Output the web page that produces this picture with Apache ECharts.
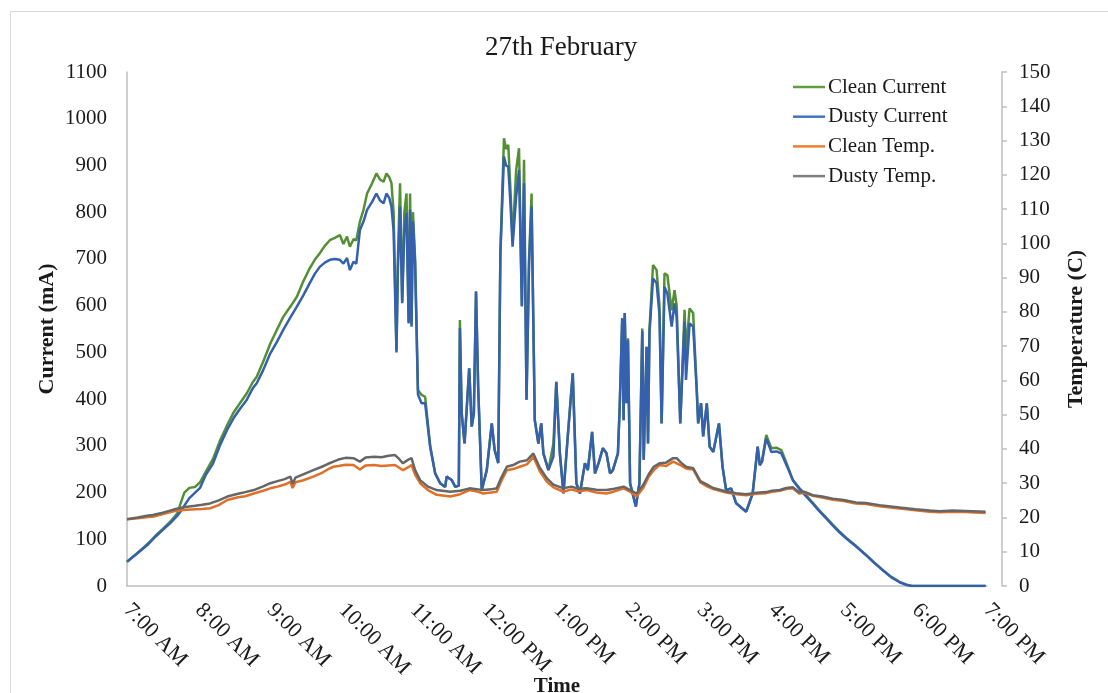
<!DOCTYPE html>
<html>
<head>
<meta charset="utf-8">
<script src="https://cdn.jsdelivr.net/npm/echarts@6/dist/echarts.min.js"></script>
<style>
html,body{margin:0;padding:0;background:#fff;}
#chart{width:1108px;height:693px;}
</style>
</head>
<body>
<div id="chart"></div>
<script>
// ---- data (time in decimal hours of the day) ----
var xTickLabels = ['7:00 AM','8:00 AM','9:00 AM','10:00 AM','11:00 AM','12:00 PM','1:00 PM','2:00 PM','3:00 PM','4:00 PM','5:00 PM','6:00 PM','7:00 PM'];
var seriesNames = ['Clean Current','Dusty Current','Clean Temp.','Dusty Temp.'];

var currentTimes = [7.00,7.10,7.20,7.30,7.40,7.50,7.60,7.70,7.75,7.80,7.87,7.95,8.02,8.10,8.20,8.30,8.40,8.49,8.58,8.67,8.75,8.81,8.90,9.00,9.09,9.18,9.28,9.37,9.46,9.55,9.62,9.69,9.76,9.83,9.90,9.97,10.02,10.07,10.11,10.16,10.20,10.25,10.30,10.35,10.42,10.48,10.53,10.58,10.62,10.66,10.69,10.72,10.76,10.78,10.81,10.84,10.87,10.90,10.93,10.95,10.97,10.99,11.02,11.06,11.11,11.16,11.23,11.30,11.37,11.44,11.46,11.53,11.58,11.63,11.645,11.67,11.71,11.775,11.81,11.84,11.87,11.90,11.95,12.02,12.09,12.13,12.18,12.21,12.26,12.29,12.32,12.35,12.38,12.43,12.47,12.51,12.54,12.575,12.61,12.645,12.69,12.74,12.78,12.81,12.88,12.95,12.99,13.04,13.09,13.15,13.22,13.27,13.32,13.39,13.43,13.49,13.53,13.58,13.64,13.69,13.74,13.78,13.85,13.875,13.91,13.93,13.945,13.97,13.99,14.02,14.10,14.15,14.19,14.21,14.25,14.27,14.29,14.34,14.39,14.43,14.46,14.50,14.54,14.60,14.64,14.67,14.72,14.78,14.80,14.85,14.90,14.95,14.97,15.01,15.04,15.09,15.13,15.18,15.26,15.31,15.36,15.43,15.50,15.57,15.64,15.73,15.80,15.83,15.86,15.92,15.99,16.06,16.13,16.21,16.29,16.38,16.47,16.57,16.66,16.76,16.85,16.94,17.05,17.17,17.31,17.43,17.55,17.66,17.78,17.88,17.95,18.20,18.60,18.98];
var cleanCurrent = [52,65,78,92,108,122,137,155,178,200,210,212,222,245,272,312,345,372,392,412,435,448,480,519,548,576,598,619,652,680,698,712,728,740,745,751,732,748,726,742,740,780,805,840,862,883,870,865,883,875,862,800,505,700,862,610,800,840,565,840,560,800,700,419,409,405,300,241,220,212,234,227,212,215,569,370,305,466,341,370,630,426,205,248,348,291,263,712,958,935,944,850,740,890,937,600,912,400,700,840,355,305,348,284,248,305,437,284,198,320,455,220,198,263,248,330,241,263,295,284,241,248,284,384,573,355,584,391,530,220,170,220,551,270,512,305,548,687,676,600,348,669,665,590,633,600,348,591,500,594,584,419,348,391,320,391,298,287,348,255,205,209,177,168,159,198,298,260,266,323,295,296,291,260,227,210,195,178,162,146,131,117,101,86,67,50,34,20,9,3,0,0,0,0];
var dustyCurrent = [52,64,77,90,106,120,134,150,160,172,188,200,210,238,262,302,335,360,380,398,422,434,462,498,522,548,575,598,622,648,668,683,692,698,700,698,690,702,676,694,690,762,780,805,822,840,825,819,840,830,812,760,500,680,812,605,760,798,562,805,555,780,690,410,391,391,298,241,220,212,234,227,212,215,552,370,305,466,341,370,630,426,205,248,348,291,263,712,919,900,897,820,726,833,890,598,862,398,690,812,355,305,348,284,248,277,437,284,198,320,455,220,198,263,248,330,241,263,295,284,241,248,284,384,573,355,584,391,526,220,170,220,545,270,512,305,540,658,648,580,348,640,626,555,605,576,348,566,441,562,555,419,348,391,320,391,298,287,348,255,205,209,177,168,159,198,298,258,266,316,287,288,284,256,227,208,193,176,160,144,129,115,100,85,66,49,33,19,8,2,0,0,0,0];

var tempTimes = [7.00,7.15,7.30,7.36,7.50,7.65,7.79,7.95,8.05,8.16,8.28,8.40,8.55,8.65,8.77,8.90,9.00,9.10,9.20,9.28,9.31,9.35,9.45,9.60,9.72,9.80,9.88,9.95,10.05,10.16,10.25,10.33,10.45,10.55,10.65,10.74,10.80,10.85,10.92,10.97,11.02,11.09,11.20,11.32,11.51,11.65,11.78,11.90,11.97,12.08,12.16,12.22,12.30,12.40,12.48,12.58,12.67,12.76,12.86,12.95,13.09,13.20,13.30,13.41,13.55,13.69,13.80,13.93,14.02,14.11,14.20,14.28,14.35,14.43,14.52,14.62,14.67,14.73,14.80,14.90,15.00,15.10,15.18,15.36,15.50,15.64,15.78,15.92,16.00,16.11,16.20,16.29,16.38,16.45,16.57,16.70,16.85,17.00,17.17,17.31,17.50,17.78,18.00,18.20,18.34,18.52,18.70,18.98];
var cleanTemp = [19.5,19.8,20.1,20.2,21.0,21.8,22.2,22.4,22.5,22.7,23.6,25.1,25.9,26.2,27.0,27.8,28.5,29.0,29.6,30.4,28.6,30.3,30.8,31.9,33.0,34.0,34.8,35.0,35.4,35.3,34.0,35.2,35.3,35.0,35.2,35.3,34.5,33.8,34.6,35.3,32.5,30.0,28.0,26.6,26.1,26.8,28.0,27.5,27.0,27.3,27.5,30.5,33.8,34.2,34.8,35.5,37.7,33.5,30.4,28.8,27.5,28.2,27.6,28.0,27.3,27.0,27.6,28.5,27.5,26.1,28.5,31.9,33.8,35.3,35.0,36.3,35.8,35.2,34.3,34.0,30.2,29.0,28.3,27.3,26.8,26.5,26.9,27.1,27.5,27.8,28.3,28.5,27.0,27.2,26.3,25.8,25.2,24.8,24.1,23.9,23.3,22.6,22.1,21.7,21.5,21.7,21.6,21.3];
var dustyTemp = [19.5,20.0,20.6,20.7,21.4,22.3,23.0,23.4,23.7,24.1,25.0,26.1,26.9,27.4,28.0,29.1,30.0,30.6,31.2,31.9,29.8,31.6,32.5,33.8,34.8,35.6,36.3,36.9,37.4,37.3,36.3,37.5,37.7,37.6,38.0,38.2,37.0,35.8,36.8,37.3,33.8,30.9,29.0,28.0,27.5,27.8,28.5,28.2,28.0,28.2,28.5,31.5,34.8,35.4,36.3,36.7,38.7,34.5,31.4,29.6,28.5,29.0,28.4,28.5,28.1,28.0,28.4,29.0,28.0,27.0,29.4,32.6,34.8,35.8,36.0,37.3,37.3,36.0,34.8,34.4,30.6,29.5,28.6,27.6,27.1,26.8,27.2,27.4,27.8,28.0,28.6,28.8,27.3,27.5,26.5,26.1,25.5,25.1,24.4,24.2,23.6,22.9,22.4,22.0,21.8,22.0,21.9,21.7];

function pairs(ts, vs){ return ts.map(function(t,i){ return [t, vs[i]]; }); }

var FONT = 'Liberation Serif';
var TXT = '#1a1a1a';
var AX = '#bfbfbf';

var chart = echarts.init(document.getElementById('chart'), null, {renderer:'canvas'});
chart.setOption({
  animation: false,
  backgroundColor: '#ffffff',
  graphic: [{
    type: 'rect', silent: true,
    shape: {x: 10.5, y: 11.5, width: 1110, height: 700},
    style: {fill: 'none', stroke: '#d9d9d9', lineWidth: 1}
  }],
  title: {
    text: '27th February', left: 480, top: 29,
    textStyle: {fontFamily: FONT, fontSize: 27, fontWeight: 'normal', color: TXT}
  },
  legend: {
    orient: 'vertical', left: 788, top: 71, itemWidth: 32, itemHeight: 2.5, itemGap: 7.7,
    icon: 'rect',
    data: seriesNames,
    textStyle: {fontFamily: FONT, fontSize: 21, color: TXT, lineHeight: 22, padding: [0,0,0,-2]}
  },
  grid: {left: 127, right: 121, top: 72, bottom: 107, containLabel: false, outerBoundsMode: 'none'},
  xAxis: {
    type: 'value', min: 7, max: 19, interval: 1,
    name: 'Time', nameLocation: 'middle', nameGap: 90, nameMoveOverlap: false,
    nameTextStyle: {fontFamily: FONT, fontSize: 21, fontWeight: 'bold', color: TXT},
    axisLine: {show: true, lineStyle: {color: AX, width: 1.5}},
    axisTick: {show: false},
    splitLine: {show: false},
    axisLabel: {
      rotate: -45, margin: 21, fontFamily: FONT, fontSize: 22, color: TXT,
      formatter: function(v){ return xTickLabels[Math.round(v - 7)] || ''; }
    }
  },
  yAxis: [{
    type: 'value', min: 0, max: 1100, interval: 100, position: 'left',
    name: 'Current (mA)', nameLocation: 'middle', nameGap: 69, nameMoveOverlap: false,
    nameTextStyle: {fontFamily: FONT, fontSize: 22, fontWeight: 'bold', color: TXT},
    axisLine: {show: true, lineStyle: {color: AX, width: 1.5}},
    axisTick: {show: false},
    splitLine: {show: false},
    axisLabel: {margin: 20, fontFamily: FONT, fontSize: 21, color: TXT,
      formatter: function(v){ return String(v); }}
  }, {
    type: 'value', min: 0, max: 150, interval: 10, position: 'right', offset: 15,
    name: 'Temperature (C)', nameLocation: 'middle', nameGap: 63, nameMoveOverlap: false,
    nameTextStyle: {fontFamily: FONT, fontSize: 22, fontWeight: 'bold', color: TXT},
    axisLine: {show: true, lineStyle: {color: AX, width: 1.5}},
    axisTick: {show: true, length: 5, lineStyle: {color: AX, width: 1.5}},
    splitLine: {show: false},
    axisLabel: {margin: 17, fontFamily: FONT, fontSize: 21, color: TXT,
      formatter: function(v){ return String(v); }}
  }],
  series: [{
    name: seriesNames[0], type: 'line', yAxisIndex: 0, symbol: 'none',
    data: pairs(currentTimes, cleanCurrent),
    lineStyle: {color: '#548F36', width: 2.5}, itemStyle: {color: '#5E9E40'}
  }, {
    name: seriesNames[1], type: 'line', yAxisIndex: 0, symbol: 'none',
    data: pairs(currentTimes, dustyCurrent),
    lineStyle: {color: '#3560AE', width: 2.5}, itemStyle: {color: '#4472C4'}
  }, {
    name: seriesNames[2], type: 'line', yAxisIndex: 1, symbol: 'none',
    data: pairs(tempTimes, cleanTemp),
    lineStyle: {color: '#E07028', width: 2.5}, itemStyle: {color: '#ED7D31'}
  }, {
    name: seriesNames[3], type: 'line', yAxisIndex: 1, symbol: 'none',
    data: pairs(tempTimes, dustyTemp),
    lineStyle: {color: '#666666', width: 2.5}, itemStyle: {color: '#7F7F7F'}
  }]
});
</script>
</body>
</html>
